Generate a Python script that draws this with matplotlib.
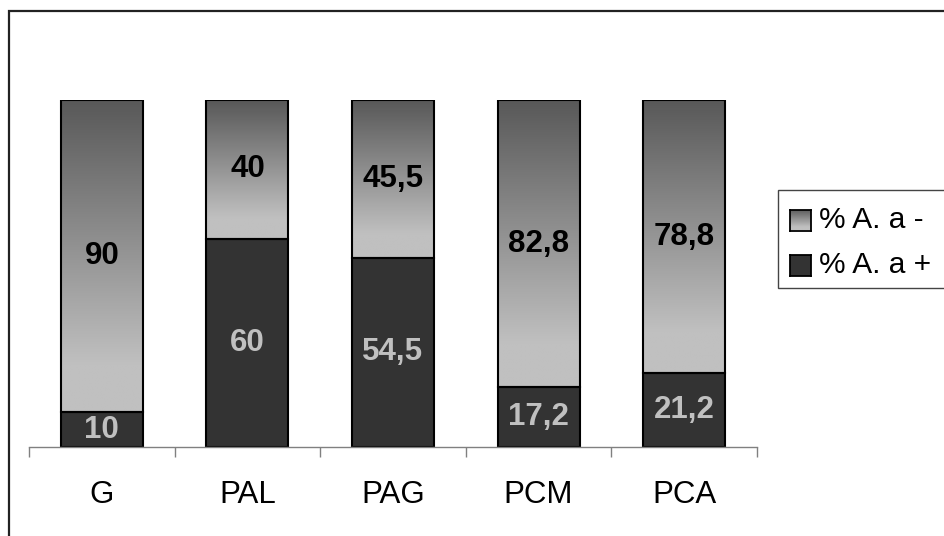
import numpy as np
import matplotlib.pyplot as plt
from matplotlib.colors import LinearSegmentedColormap
from matplotlib.patches import Rectangle

plt.rcParams['font.family'] = ['Liberation Sans', 'DejaVu Sans']

categories = ["G", "PAL", "PAG", "PCM", "PCA"]
pct_pos = [10, 60, 54.5, 17.2, 21.2]      # % A. a +
pct_neg = [90, 40, 45.5, 82.8, 78.8]      # % A. a -
series_names = ["% A. a -", "% A. a +"]

W, H = 945, 536
fig = plt.figure(figsize=(W / 100, H / 100), dpi=100)
fig.patch.set_facecolor("white")

# outer frame around the chart area
fig.add_artist(Rectangle((9 / W, -0.2), 2, (H - 11) / H + 0.2,
                         transform=fig.transFigure, fill=False,
                         edgecolor="#222222", linewidth=1.6, zorder=0))

ax = fig.add_axes([29 / W, (H - 447) / H, (757 - 29) / W, (447 - 100) / H])
ax.set_facecolor("none")

dark_col, light_col = "#333333", "#c0c0c0"
grad_cmap = LinearSegmentedColormap.from_list(
    "shade", [(0.0, "#585858"), (0.85, "#c0c0c0"), (1.0, "#c0c0c0")])
grad = np.linspace(0, 1, 256).reshape(-1, 1)

x = np.arange(len(categories))
width = 0.564

def fmt(v):
    return f"{v:g}".replace(".", ",")

for xi, p, n in zip(x, pct_pos, pct_neg):
    # lower segment
    ax.bar(xi, p, width, color=dark_col, edgecolor="black", linewidth=1.5, zorder=2)
    # upper segment with vertical shading (dark on top)
    ax.imshow(grad, extent=(xi - width / 2, xi + width / 2, p, p + n),
              origin="upper", cmap=grad_cmap, vmin=0, vmax=1, aspect="auto",
              interpolation="bilinear", zorder=1)
    ax.bar(xi, n, width, bottom=p, facecolor="none", edgecolor="black",
           linewidth=1.5, zorder=3)
    ax.text(xi, p / 2, fmt(p), ha="center", va="center", fontsize=22.5,
            fontweight="bold", color=light_col, zorder=4)
    ax.text(xi, p + n / 2, fmt(n), ha="center", va="center", fontsize=22.5,
            fontweight="bold", color="black", zorder=4)

ax.set_xlim(-0.5, len(categories) - 0.5)
ax.set_ylim(0, 100)

for side in ("left", "right", "top"):
    ax.spines[side].set_visible(False)
ax.spines["bottom"].set_color("#808080")
ax.spines["bottom"].set_linewidth(1.0)
ax.set_yticks([])

ax.set_xticks(np.arange(len(categories) + 1) - 0.5)
ax.set_xticklabels([])
ax.tick_params(axis="x", which="major", length=7.5, width=1.0,
               color="#808080", direction="out")
ax.set_xticks(x, minor=True)
ax.set_xticklabels(categories, minor=True, fontsize=22.5)
ax.tick_params(axis="x", which="minor", length=0, pad=24)

# legend
fig.add_artist(Rectangle((778 / W, (H - 288) / H), 0.3, 98 / H,
                         transform=fig.transFigure, facecolor="white",
                         edgecolor="#444444", linewidth=1.0, zorder=1))
sw = 21
for i, name in enumerate(series_names):
    cy = 220 + 45 * i
    sax = fig.add_axes([790 / W, (H - cy - sw / 2) / H, sw / W, sw / H])
    sax.set_zorder(5)
    if i == 0:
        sax.imshow(grad, cmap=grad_cmap, vmin=0, vmax=1, aspect="auto",
                   interpolation="bilinear")
    else:
        sax.set_facecolor(dark_col)
    sax.set_xticks([])
    sax.set_yticks([])
    for sp in sax.spines.values():
        sp.set_linewidth(1.3)
        sp.set_color("black")
    fig.text(819 / W, (H - cy) / H, name, fontsize=21.5, ha="left",
             va="center", color="black", zorder=6)

fig.savefig("out.png", dpi=100)
